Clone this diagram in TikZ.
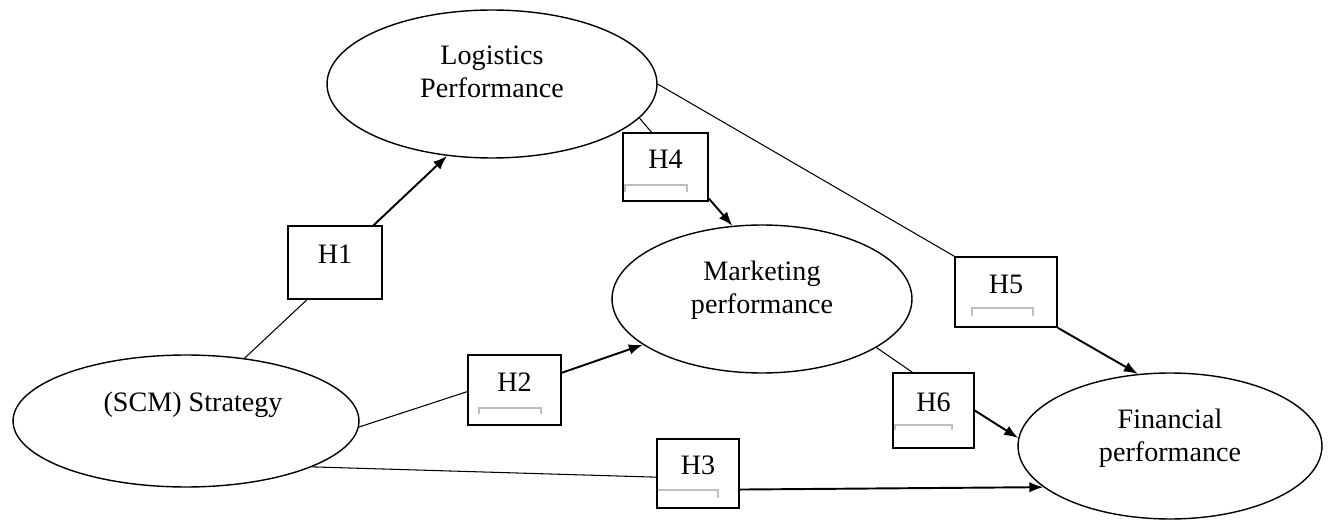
\documentclass[tikz,border=0pt]{standalone}
\usepackage{fontspec}
\setmainfont{Liberation Serif}
\usetikzlibrary{shapes.geometric,arrows.meta}

\begin{document}
\begin{tikzpicture}[x=0.02cm,y=-0.02cm,
    ell/.style={draw,ellipse,line width=0.8pt,inner sep=0pt},
    lbl/.style={align=center,font=\fontsize{16}{19}\selectfont},
    hyp/.style={draw,rectangle,line width=0.9pt,inner sep=0pt,
      font=\fontsize{16}{19}\selectfont,text height=11pt,text depth=9.4pt},
    lnk/.style={line width=0.6pt},
    arr/.style={line width=1.1pt,-{Latex[length=8pt,width=6pt]}},
    brk/.style={line width=0.6pt,black!25}]
  \useasboundingbox (0,0) rectangle (1329,520);
  % constructs
  \node[ell,minimum width=6.6cm,minimum height=2.96cm] (lg) at (492,84) {};
  \node[ell,minimum width=6.0cm,minimum height=2.96cm] (mk) at (762,299) {};
  \node[ell,minimum width=6.92cm,minimum height=2.64cm] (scm) at (186,421) {};
  \node[ell,minimum width=6.08cm,minimum height=2.92cm] (fin) at (1170,446) {};
  \node[lbl] (lgt) at ([shift={(0,-12)}]lg.center) {Logistics\\Performance};
  \node[lbl] (mkt) at ([shift={(0,-9)}]mk.center) {Marketing\\performance};
  \node[lbl] (scmt) at ([shift={(7,-16)}]scm.center) {(SCM) Strategy};
  \node[lbl] (fint) at ([shift={(0,-8)}]fin.center) {Financial\\performance};
  % hypotheses
  \node[hyp,minimum width=1.88cm,minimum height=1.46cm] (h1) at (335,262.5) {H1};
  \node[hyp,minimum width=1.86cm,minimum height=1.4cm] (h2) at (514.5,390) {H2};
  \node[hyp,minimum width=1.64cm,minimum height=1.38cm] (h3) at (698,473.5) {H3};
  \node[hyp,minimum width=1.7cm,minimum height=1.36cm] (h4) at (665.5,167) {H4};
  \node[hyp,minimum width=2.04cm,minimum height=1.4cm] (h5) at (1006,292) {H5};
  \node[hyp,minimum width=1.62cm,minimum height=1.5cm] (h6) at (933.5,410.5) {H6};
  % paths
  \draw[lnk] (scm.47) -- (h1.233);
  \draw[arr] (h1.44) -- (lg.238);
  \draw[lnk] (scm.-2) -- (h2.182);
  \draw[arr] (h2.20) -- (mk.201);
  \draw[lnk] (scm.340) -- (h3.185);
  \draw[arr] (h3.339) -- (fin.198);
  \draw[lnk] (lg.347) -- (h4.112);
  \draw[arr] (h4.324) -- (mk.112);
  \draw[lnk] (lg.east) -- (h5.north west);
  \draw[arr] (h5.south east) -- (fin.114);
  \draw[lnk] (mk.337) -- (h6.119);
  \draw[arr] (h6.east) -- (fin.177);
  % grey marks in the boxes
  \draw[brk] (479,414) |- (541,408) -- (541,414);
  \draw[brk] (625,192) |- (687,185) -- (687,192);
  \draw[brk] (658,490) -- (718,490) -- (718,498);
  \draw[brk] (972,316) |- (1033,308) -- (1033,316);
  \draw[brk] (895,430) |- (952,425) -- (952,430);
\end{tikzpicture}
\end{document}
